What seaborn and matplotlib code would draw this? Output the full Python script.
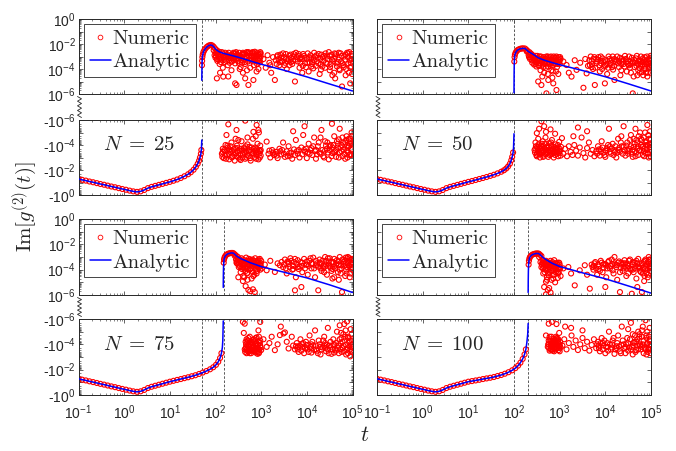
import matplotlib
matplotlib.use("Agg")
import matplotlib.pyplot as plt
import numpy as np
import seaborn as sns
from matplotlib.lines import Line2D
from matplotlib.ticker import FixedLocator, FixedFormatter, LogLocator, NullLocator, NullFormatter

# ---- data (log10 t, log10 |Im g2|) ----
# early-time negative branch, the same for every N
early_logt = [-1.00, -0.92, -0.84, -0.76, -0.68, -0.60, -0.52, -0.44, -0.36, -0.28, -0.20, -0.12, -0.04,
              0.04, 0.12, 0.20, 0.28, 0.36, 0.44, 0.52, 0.60, 0.68, 0.76, 0.84, 0.92, 1.00]
early_logy = [-1.28, -1.21, -1.15, -1.08, -1.02, -0.95, -0.88, -0.82, -0.75, -0.68, -0.62, -0.55, -0.48,
              -0.42, -0.35, -0.29, -0.25, -0.29, -0.40, -0.55, -0.65, -0.73, -0.81, -0.89, -0.97, -1.05]

# N = 25
n25_neg_logt = [1.08, 1.16, 1.24, 1.32, 1.40, 1.46, 1.52, 1.57, 1.61, 1.64, 1.66, 1.68, 1.69, 1.70]
n25_neg_logy = [-1.14, -1.24, -1.36, -1.50, -1.66, -1.82, -2.02, -2.25, -2.50, -2.75, -3.00, -3.30, -3.60, -4.40]
n25_pos_logt = [1.700, 1.702, 1.704, 1.707, 1.712, 1.720, 1.735, 1.755, 1.780, 1.810, 1.840, 1.870, 1.900, 1.930,
                1.960, 1.990, 2.030, 2.080, 2.150, 2.250, 2.400, 2.600, 2.800, 3.000, 3.500, 4.000, 4.500, 5.000]
n25_pos_logy = [-4.90, -4.20, -3.70, -3.35, -3.05, -2.85, -2.65, -2.50, -2.36, -2.24, -2.15, -2.10, -2.08, -2.12,
                -2.22, -2.36, -2.50, -2.62, -2.72, -2.82, -2.96, -3.17, -3.40, -3.62, -4.10, -4.63, -5.20, -5.76]
n25_peak_end = 2.08
n25_marks = [50]
n25_cloud_pos = [
    (1.96, -2.5), (1.98, -2.9), (2.0, -3.1), (2.02, -2.75), (2.04, -3.35), (2.07, -3.0), (2.09, -3.6), (2.11, -2.85),
    (2.13, -3.25), (2.16, -3.9), (2.18, -2.95), (2.2, -3.45), (2.23, -3.1), (2.25, -2.8), (2.27, -3.7), (2.3, -3.3),
    (2.33, -2.9), (2.35, -4.1), (2.38, -3.15), (2.41, -2.75), (2.43, -3.55), (2.46, -3.0), (2.49, -3.35), (2.52, -2.7),
    (2.55, -3.85), (2.58, -3.1), (2.61, -2.85), (2.64, -3.45), (2.67, -3.0), (2.7, -2.7), (2.73, -3.25), (2.76, -3.9),
    (2.79, -2.95), (2.82, -3.4), (2.85, -2.75), (2.88, -3.15), (2.91, -3.6), (2.94, -2.85), (2.96, -3.3), (2.98, -2.65),
    (2.99, -3.0), (2.6, -2.7), (2.66, -2.8), (2.72, -2.65), (2.8, -2.72), (2.86, -2.62), (2.92, -2.7), (2.97, -2.8),
    (2.5, -2.9), (2.44, -2.75), (2.36, -2.85), (2.03, -4.75), (2.17, -4.61), (2.28, -4.6), (2.43, -5.15), (2.46, -5.28),
    (2.65, -4.75), (2.72, -5.28), (2.83, -4.88), (2.6, -4.3), (2.9, -4.2), (2.1, -4.3),
    (3.05, -3.2), (3.1, -3.9), (3.14, -2.9), (3.18, -3.5), (3.22, -4.3), (3.26, -3.05), (3.3, -4.88), (3.2, -3.7),
    (3.32, -3.3), (3.36, -2.9), (3.4, -3.7), (3.44, -3.1), (3.48, -2.75), (3.52, -3.5), (3.56, -4.0), (3.6, -3.2),
    (3.64, -2.85), (3.68, -3.6), (3.72, -3.0), (3.74, -5.0), (3.76, -2.7), (3.8, -3.4), (3.84, -3.9), (3.88, -3.05),
    (3.92, -2.8), (3.96, -3.55), (4.0, -3.2), (4.04, -4.2), (4.08, -2.9), (4.12, -3.45), (4.16, -2.7), (4.2, -3.75),
    (4.24, -3.1), (4.28, -4.4), (4.32, -2.85), (4.36, -3.35), (4.4, -3.9), (4.44, -3.0), (4.48, -2.65), (4.52, -3.6),
    (4.56, -4.5), (4.6, -3.2), (4.62, -4.75), (4.64, -2.8), (4.68, -3.45), (4.72, -4.1), (4.76, -2.95), (4.77, -5.4),
    (4.8, -3.7), (4.84, -3.25), (4.88, -2.7), (4.92, -4.3), (4.95, -5.15), (4.96, -3.5), (4.99, -3.0), (4.98, -2.8),
    (4.9, -3.05), (4.7, -2.7), (4.5, -2.95), (4.3, -3.6), (4.1, -3.8), (3.9, -4.3),
]
n25_core_pos = [
    (2.01, -2.95), (2.05, -2.7), (2.08, -3.2), (2.12, -3.45), (2.15, -2.75), (2.19, -3.25), (2.22, -2.9), (2.26, -3.05),
    (2.29, -2.7), (2.31, -3.5), (2.34, -3.15), (2.37, -2.95), (2.4, -3.3), (2.42, -3.05), (2.45, -2.65), (2.48, -3.15),
    (2.51, -3.5), (2.54, -2.95), (2.56, -3.3), (2.59, -2.8), (2.62, -3.15), (2.65, -3.6), (2.68, -2.65), (2.71, -3.4),
    (2.74, -2.95), (2.77, -3.15), (2.8, -3.0), (2.83, -2.9), (2.86, -3.2), (2.89, -2.85), (2.92, -3.0), (2.95, -3.5),
    (2.97, -3.15), (2.99, -2.75), (2.53, -4.0), (2.69, -4.1), (2.84, -3.7), (2.94, -4.0),
    (3.34, -3.6), (3.38, -3.2), (3.42, -2.85), (3.46, -3.4), (3.5, -3.05), (3.54, -2.8), (3.58, -3.4), (3.62, -3.7),
    (3.66, -3.1), (3.7, -3.35), (3.78, -3.05), (3.82, -2.8), (3.86, -3.5), (3.9, -3.2), (3.94, -2.95), (3.98, -3.85),
    (4.02, -2.75), (4.06, -3.5), (4.1, -3.15), (4.14, -3.95), (4.18, -3.0), (4.22, -3.4), (4.26, -2.8), (4.3, -3.2),
    (4.34, -3.8), (4.38, -2.95), (4.42, -3.5), (4.46, -3.2), (4.5, -4.1), (4.54, -2.85), (4.58, -3.4), (4.62, -3.0),
    (4.66, -3.8), (4.7, -3.25), (4.74, -2.75), (4.78, -3.55), (4.82, -3.0), (4.86, -4.0), (4.9, -2.75), (4.94, -3.3),
    (4.97, -3.8), (4.99, -4.4), (4.93, -2.65), (4.85, -4.5), (4.6, -4.3),
]
n25_fill_pos = [
    (2.0, -2.65), (2.03, -3.2), (2.06, -2.85), (2.1, -3.1), (2.14, -2.65), (2.17, -3.05), (2.21, -2.7), (2.24, -3.35),
    (2.28, -2.95), (2.32, -3.1), (2.36, -3.4), (2.39, -2.7), (2.44, -3.2), (2.47, -2.85), (2.5, -3.15), (2.55, -3.05),
    (2.58, -3.5), (2.63, -2.75), (2.69, -3.1), (2.75, -2.75), (2.78, -3.3), (2.81, -2.65), (2.87, -3.35), (2.9, -3.0),
    (2.93, -3.25), (2.98, -3.45),
    (3.35, -3.0), (3.45, -3.35), (3.55, -3.2), (3.65, -3.45), (3.75, -3.25), (3.85, -3.2), (3.95, -3.1), (4.05, -3.05),
    (4.15, -3.3), (4.25, -3.55), (4.35, -3.05), (4.45, -3.6), (4.55, -3.25), (4.65, -3.55), (4.75, -3.4), (4.85, -2.85),
    (4.95, -3.9), (4.98, -3.2), (4.91, -3.55), (4.81, -3.85), (4.71, -4.0), (4.61, -2.75), (4.51, -3.85), (4.41, -2.75),
    (4.31, -4.05), (4.21, -2.9), (4.11, -3.6), (4.01, -3.5), (3.91, -3.75), (3.81, -2.95), (3.71, -2.8), (3.61, -2.95),
    (3.51, -3.7), (3.41, -3.45),
]
n25_cloud_neg = [
    (2.14, -3.3), (2.16, -3.7), (2.18, -2.95), (2.2, -3.5), (2.22, -4.0), (2.25, -3.2), (2.27, -3.8), (2.3, -2.85),
    (2.32, -3.45), (2.35, -4.2), (2.37, -3.1), (2.4, -3.65), (2.42, -2.75), (2.45, -3.35), (2.47, -3.95), (2.5, -3.0),
    (2.52, -3.55), (2.55, -2.8), (2.57, -4.3), (2.6, -3.25), (2.62, -3.75), (2.65, -2.9), (2.67, -3.45), (2.7, -4.05),
    (2.72, -3.1), (2.75, -3.6), (2.77, -2.75), (2.8, -3.35), (2.82, -4.5), (2.85, -3.0), (2.87, -3.8), (2.9, -3.2),
    (2.92, -4.1), (2.94, -2.85), (2.96, -3.55), (2.98, -3.95), (2.99, -3.15), (2.5, -4.4), (2.7, -4.6), (2.88, -4.7),
    (2.95, -5.0), (2.24, -4.8), (2.28, -5.65), (2.46, -5.2), (2.65, -5.95), (2.83, -5.05), (2.9, -5.6), (2.94, -5.2),
    (2.44, -4.5), (3.12, -4.27),
    (3.16, -3.3), (3.2, -3.0), (3.24, -3.6), (3.28, -3.2), (3.32, -3.45), (3.36, -2.95), (3.4, -3.7), (3.44, -3.25),
    (3.48, -4.2), (3.52, -3.05), (3.56, -3.5), (3.6, -3.9), (3.64, -3.15), (3.68, -2.9), (3.72, -3.65), (3.76, -4.4),
    (3.8, -3.3), (3.84, -3.0), (3.88, -3.8), (3.92, -4.8), (3.96, -3.45), (4.0, -2.95), (4.04, -4.1), (4.08, -3.6),
    (4.12, -3.2), (4.16, -4.6), (4.2, -2.9), (4.24, -3.9), (4.28, -3.4), (4.32, -5.2), (4.36, -3.1), (4.4, -4.3),
    (4.44, -3.7), (4.48, -2.85), (4.52, -4.0), (4.56, -3.35), (4.6, -4.7), (4.64, -3.05), (4.68, -3.8), (4.72, -5.3),
    (4.76, -3.5), (4.8, -4.2), (4.84, -2.9), (4.88, -3.95), (4.92, -4.5), (4.95, -3.25), (4.98, -5.0), (4.99, -3.7),
    (4.9, -3.4), (4.7, -4.45), (4.5, -3.6), (4.3, -4.6), (3.95, -5.5), (3.7, -5.1), (4.55, -5.7),
]
n25_core_neg = [
    (2.15, -3.05), (2.19, -3.6), (2.23, -2.9), (2.26, -3.55), (2.29, -3.3), (2.33, -3.9), (2.36, -3.0), (2.39, -3.4),
    (2.43, -3.75), (2.46, -3.1), (2.49, -3.5), (2.53, -2.9), (2.56, -3.7), (2.59, -3.0), (2.63, -3.4), (2.66, -3.9),
    (2.69, -3.2), (2.73, -3.5), (2.76, -2.95), (2.79, -3.8), (2.83, -3.3), (2.86, -3.55), (2.89, -2.9), (2.93, -3.45),
    (2.97, -3.0), (2.99, -3.6),
    (3.18, -3.55), (3.26, -3.4), (3.34, -3.15), (3.42, -3.5), (3.5, -3.3), (3.58, -3.1), (3.66, -3.4), (3.74, -3.2),
    (3.82, -3.6), (3.9, -3.25), (3.98, -3.7), (4.06, -3.3), (4.14, -3.9), (4.18, -3.5), (4.22, -3.25), (4.26, -4.2),
    (4.34, -3.6), (4.38, -3.0), (4.42, -3.95), (4.46, -3.4), (4.54, -3.1), (4.58, -4.0), (4.62, -3.5), (4.66, -4.3),
    (4.7, -3.0), (4.74, -3.8), (4.78, -4.6), (4.82, -3.3), (4.86, -4.4), (4.9, -3.8), (4.94, -4.1), (4.97, -3.2),
    (4.99, -4.7), (4.96, -4.3), (4.89, -3.0),
]
n25_fill_neg = [
    (2.16, -3.45), (2.21, -3.15), (2.26, -3.95), (2.31, -3.65), (2.36, -3.55), (2.41, -3.2), (2.48, -3.75),
    (2.54, -3.25), (2.58, -3.55), (2.64, -3.65), (2.68, -3.0), (2.74, -3.85), (2.78, -3.45), (2.84, -3.7),
    (2.88, -3.4), (2.91, -3.65), (2.95, -3.3), (2.98, -3.5),
    (3.3, -3.3), (3.46, -3.6), (3.62, -3.35), (3.78, -3.5), (3.94, -3.6), (4.02, -3.4), (4.1, -3.75), (4.2, -3.6),
    (4.3, -3.3), (4.4, -3.55), (4.5, -3.9), (4.56, -3.8), (4.64, -3.6), (4.68, -4.1), (4.72, -3.4), (4.76, -4.0),
    (4.8, -3.6), (4.84, -4.2), (4.88, -3.55), (4.92, -3.9), (4.95, -4.5), (4.97, -3.6), (4.99, -4.1), (4.93, -3.2),
    (4.87, -4.7), (4.78, -3.1), (4.6, -3.4), (4.45, -4.2),
]

# N = 50
n50_neg_logt = [1.08, 1.16, 1.24, 1.32, 1.40, 1.48, 1.56, 1.64, 1.72, 1.78, 1.83, 1.87, 1.91, 1.94, 1.96, 1.98, 1.99, 2.00]
n50_neg_logy = [-1.12, -1.20, -1.28, -1.36, -1.44, -1.53, -1.62, -1.73, -1.86, -1.98, -2.12, -2.28, -2.50, -2.78,
                -3.05, -3.40, -3.80, -4.90]
n50_pos_logt = [2.000, 2.002, 2.004, 2.007, 2.012, 2.020, 2.035, 2.055, 2.080, 2.110, 2.140, 2.170, 2.200, 2.240,
                2.270, 2.300, 2.340, 2.390, 2.450, 2.530, 2.650, 2.800, 3.000, 3.500, 4.000, 4.500, 5.000]
n50_pos_logy = [-5.90, -4.60, -3.90, -3.40, -3.05, -2.85, -2.70, -2.58, -2.48, -2.42, -2.38, -2.36, -2.35, -2.36,
                -2.45, -2.56, -2.66, -2.76, -2.90, -3.10, -3.28, -3.45, -3.66, -4.12, -4.62, -5.18, -5.76]
n50_peak_end = 2.34
n50_marks = [100]
n50_cloud_pos = [
    (2.28, -2.6), (2.32, -2.9), (2.35, -3.2), (2.38, -2.8), (2.4, -3.5), (2.42, -3.05), (2.45, -3.35), (2.47, -2.95),
    (2.49, -3.8), (2.52, -3.15), (2.54, -3.5), (2.56, -3.0), (2.58, -4.1), (2.6, -3.3), (2.63, -3.65), (2.65, -3.05),
    (2.67, -3.4), (2.7, -3.9), (2.72, -3.15), (2.74, -4.4), (2.76, -3.5), (2.78, -3.05), (2.8, -3.75), (2.83, -3.25),
    (2.85, -4.2), (2.87, -3.0), (2.9, -3.55), (2.92, -3.1), (2.94, -3.85), (2.96, -3.35), (2.98, -3.05), (3.0, -3.6),
    (3.02, -3.2), (2.62, -4.6), (2.84, -4.7), (2.97, -4.4), (2.53, -5.0), (2.6, -5.28), (2.71, -5.95), (2.75, -4.88),
    (2.86, -5.15), (2.93, -5.68), (2.5, -3.3), (2.69, -3.2), (2.88, -3.35),
    (3.08, -3.4), (3.15, -3.68), (3.2, -4.3), (3.26, -4.61), (3.33, -3.3), (3.37, -4.07), (3.45, -3.5), (3.52, -5.5),
    (3.56, -3.2), (3.59, -4.35), (3.62, -3.75),
    (3.65, -3.3), (3.68, -3.0), (3.71, -3.6), (3.74, -3.2), (3.77, -5.28), (3.78, -3.9), (3.82, -3.4), (3.85, -3.05),
    (3.88, -4.2), (3.91, -3.55), (3.94, -3.15), (3.97, -3.8), (3.99, -5.15), (4.0, -3.3), (4.04, -4.4), (4.07, -3.0),
    (4.1, -3.65), (4.14, -3.25), (4.17, -4.05), (4.2, -4.88), (4.22, -3.45), (4.26, -3.0), (4.3, -3.85), (4.33, -4.5),
    (4.36, -3.2), (4.4, -3.6), (4.43, -2.95), (4.47, -4.2), (4.5, -3.4), (4.54, -3.9), (4.58, -3.1), (4.6, -5.95),
    (4.62, -4.6), (4.65, -3.5), (4.69, -2.95), (4.72, -4.1), (4.76, -3.3), (4.8, -3.75), (4.83, -4.5), (4.86, -3.05),
    (4.9, -3.6), (4.93, -4.3), (4.96, -3.2), (4.98, -3.9), (4.99, -2.95), (4.94, -3.45), (4.88, -4.0), (4.78, -3.0),
]
n50_core_pos = [
    (2.33, -3.05), (2.36, -2.75), (2.39, -3.3), (2.41, -2.9), (2.44, -3.65), (2.46, -3.1), (2.48, -3.45), (2.51, -2.95),
    (2.53, -3.7), (2.55, -3.25), (2.57, -3.55), (2.59, -3.0), (2.62, -3.4), (2.64, -3.85), (2.66, -3.2), (2.68, -3.6),
    (2.71, -3.0), (2.73, -3.45), (2.75, -3.8), (2.77, -3.25), (2.79, -3.55), (2.81, -3.0), (2.84, -3.45), (2.86, -3.7),
    (2.89, -3.15), (2.91, -3.4), (2.93, -3.0), (2.95, -3.6), (2.97, -3.25), (2.99, -3.45), (3.01, -3.05), (2.82, -4.1),
    (2.66, -4.3), (2.92, -4.2),
    (3.66, -3.7), (3.7, -3.35), (3.73, -4.0), (3.76, -3.05), (3.8, -3.55), (3.84, -3.25), (3.87, -3.7), (3.9, -3.0),
    (3.93, -4.0), (3.96, -3.4), (4.02, -3.6), (4.06, -3.9), (4.09, -3.2), (4.12, -3.5), (4.16, -3.0), (4.19, -3.75),
    (4.24, -3.3), (4.28, -3.55), (4.32, -3.1), (4.35, -4.1), (4.38, -3.4), (4.42, -3.8), (4.45, -3.2), (4.49, -3.6),
    (4.52, -3.0), (4.56, -4.3), (4.6, -3.4), (4.64, -3.85), (4.67, -3.15), (4.71, -3.6), (4.74, -3.9), (4.78, -3.4),
    (4.82, -3.15), (4.85, -4.0), (4.88, -3.5), (4.91, -3.0), (4.95, -3.8), (4.97, -3.35), (4.99, -4.3), (4.92, -4.6),
    (4.8, -4.25), (4.7, -4.5),
]
n50_fill_pos = [
    (2.34, -2.85), (2.37, -3.05), (2.43, -3.25), (2.47, -3.6), (2.52, -3.35), (2.56, -3.75), (2.61, -3.15),
    (2.65, -3.5), (2.69, -3.4), (2.74, -3.0), (2.78, -3.6), (2.82, -3.35), (2.88, -3.55), (2.92, -3.3), (2.96, -3.5),
    (3.0, -3.3), (2.57, -3.25), (2.85, -3.1),
    (3.7, -3.85), (3.8, -3.2), (3.9, -3.35), (4.0, -3.75), (4.1, -3.35), (4.2, -3.2), (4.3, -3.35), (4.4, -3.25),
    (4.46, -3.45), (4.52, -3.7), (4.58, -3.5), (4.63, -3.25), (4.68, -3.75), (4.73, -3.35), (4.77, -3.6), (4.81, -3.45),
    (4.84, -3.3), (4.87, -3.8), (4.9, -3.3), (4.93, -3.55), (4.96, -3.6), (4.98, -3.1), (4.99, -3.7), (4.89, -4.3),
    (4.75, -4.3), (4.55, -3.6), (4.35, -3.6), (4.15, -3.85),
]
n50_cloud_neg = [
    (2.45, -3.6), (2.47, -4.2), (2.49, -3.2), (2.51, -3.85), (2.53, -4.5), (2.55, -3.4), (2.57, -3.0), (2.59, -3.95),
    (2.61, -3.55), (2.63, -4.3), (2.65, -3.15), (2.67, -3.75), (2.69, -4.6), (2.71, -3.35), (2.73, -3.9), (2.75, -3.05),
    (2.77, -4.15), (2.79, -3.6), (2.81, -3.25), (2.83, -4.4), (2.85, -3.7), (2.87, -3.0), (2.89, -3.5), (2.91, -4.05),
    (2.93, -3.3), (2.95, -3.8), (2.97, -3.1), (2.99, -4.25), (3.01, -3.55), (3.03, -3.85), (2.55, -5.3), (2.6, -5.9),
    (2.66, -5.5), (2.7, -5.05), (2.8, -5.25), (2.9, -4.9), (2.5, -4.95), (3.05, -4.55),
    (3.08, -3.3), (3.12, -3.7), (3.16, -3.1), (3.2, -3.9), (3.24, -3.45), (3.28, -3.2), (3.32, -4.0), (3.36, -3.55),
    (3.4, -3.15), (3.44, -3.8), (3.48, -4.6), (3.52, -3.35), (3.56, -3.0), (3.6, -3.75), (3.64, -4.2), (3.68, -3.3),
    (3.72, -3.6), (3.76, -3.1), (3.4, -5.4), (3.6, -5.1), (3.3, -4.7),
    (3.8, -3.5), (3.84, -3.9), (3.88, -3.15), (3.92, -4.3), (3.96, -3.4), (4.0, -3.05), (4.04, -3.75), (4.08, -5.3),
    (4.12, -3.3), (4.16, -4.1), (4.2, -3.6), (4.24, -3.0), (4.28, -4.5), (4.32, -3.45), (4.36, -3.9), (4.4, -5.5),
    (4.44, -3.15), (4.48, -4.2), (4.52, -3.7), (4.56, -4.8), (4.6, -3.05), (4.64, -3.5), (4.68, -4.4), (4.72, -3.2),
    (4.76, -5.0), (4.8, -3.85), (4.84, -4.6), (4.88, -3.35), (4.92, -5.6), (4.95, -3.0), (4.97, -4.1), (4.99, -3.6),
    (4.9, -4.3), (4.78, -4.0), (4.66, -5.3), (4.5, -3.3), (4.35, -4.7), (4.98, -5.1), (4.85, -3.1), (4.7, -3.7),
]
n50_core_neg = [
    (2.46, -3.4), (2.48, -3.9), (2.5, -3.1), (2.52, -3.55), (2.54, -4.05), (2.56, -3.25), (2.58, -3.7), (2.6, -3.35),
    (2.62, -3.85), (2.64, -3.05), (2.66, -3.5), (2.68, -4.1), (2.7, -3.25), (2.72, -3.6), (2.74, -3.4), (2.76, -3.85),
    (2.78, -3.2), (2.8, -3.5), (2.82, -3.95), (2.84, -3.3), (2.86, -3.55), (2.88, -3.85), (2.9, -3.2), (2.92, -3.6),
    (2.94, -3.45), (2.96, -4.0), (2.98, -3.35), (3.0, -3.7), (3.02, -3.15),
    (3.82, -3.3), (3.86, -3.65), (3.9, -3.45), (3.94, -3.8), (3.98, -3.2), (4.02, -3.55), (4.06, -4.0), (4.1, -3.45),
    (4.14, -3.7), (4.18, -3.2), (4.22, -3.9), (4.26, -3.4), (4.3, -3.75), (4.34, -4.2), (4.38, -3.3), (4.42, -3.6),
    (4.46, -3.95), (4.5, -3.5), (4.54, -4.4), (4.58, -3.3), (4.62, -3.85), (4.66, -3.1), (4.7, -4.2), (4.74, -3.55),
    (4.78, -4.5), (4.82, -3.2), (4.86, -3.7), (4.9, -4.0), (4.93, -3.35), (4.96, -4.5), (4.98, -3.85), (4.99, -3.1),
    (4.94, -4.8), (4.87, -5.0),
]
n50_fill_neg = [
    (2.47, -3.7), (2.51, -3.3), (2.55, -3.85), (2.59, -3.5), (2.63, -3.6), (2.67, -3.3), (2.71, -3.8), (2.75, -3.55),
    (2.79, -3.4), (2.83, -3.65), (2.87, -3.4), (2.91, -3.75), (2.95, -3.6), (2.99, -3.5), (2.61, -4.1), (2.81, -4.2),
    (3.9, -3.65), (4.0, -3.55), (4.1, -3.9), (4.2, -3.45), (4.3, -3.6), (4.4, -3.85), (4.48, -3.6), (4.56, -3.9),
    (4.6, -3.6), (4.64, -4.1), (4.68, -3.4), (4.72, -3.9), (4.76, -3.6), (4.8, -4.4), (4.84, -3.5), (4.88, -4.2),
    (4.91, -3.6), (4.94, -3.3), (4.97, -3.8), (4.99, -4.4), (4.93, -4.0), (4.83, -3.9), (4.73, -4.7), (4.62, -4.5),
]

# N = 75
n75_neg_logt = [1.08, 1.16, 1.24, 1.32, 1.40, 1.48, 1.56, 1.64, 1.72, 1.80, 1.88, 1.95, 2.01, 2.06, 2.10, 2.13,
                2.15, 2.16, 2.17]
n75_neg_logy = [-1.12, -1.19, -1.26, -1.33, -1.40, -1.48, -1.56, -1.66, -1.77, -1.89, -2.03, -2.19, -2.38, -2.62,
                -2.92, -3.30, -3.75, -4.30, -5.85]
n75_pos_logt = [2.170, 2.172, 2.175, 2.180, 2.187, 2.197, 2.210, 2.230, 2.255, 2.285, 2.315, 2.345, 2.375, 2.400,
                2.430, 2.460, 2.500, 2.560, 2.650, 2.760, 2.880, 3.000, 3.500, 4.000, 4.500, 5.000]
n75_pos_logy = [-5.40, -4.50, -3.90, -3.45, -3.20, -3.05, -2.95, -2.85, -2.78, -2.73, -2.70, -2.68, -2.68, -2.72,
                -2.82, -2.92, -3.02, -3.14, -3.28, -3.45, -3.60, -3.76, -4.20, -4.65, -5.20, -5.80]
n75_peak_end = 2.46
n75_marks = [50, 150]
n75_cloud_pos = [
    (2.42, -2.9), (2.45, -3.2), (2.47, -3.5), (2.49, -3.0), (2.51, -3.8), (2.53, -3.3), (2.55, -4.2), (2.57, -3.1),
    (2.59, -3.6), (2.61, -4.5), (2.63, -3.25), (2.65, -3.9), (2.67, -3.05), (2.69, -4.3), (2.71, -3.5), (2.73, -3.15),
    (2.75, -4.0), (2.77, -3.4), (2.79, -4.7), (2.81, -3.2), (2.83, -3.75), (2.85, -4.4), (2.87, -3.1), (2.89, -3.6),
    (2.91, -4.1), (2.93, -3.3), (2.95, -3.85), (2.97, -3.15), (2.99, -3.5), (3.01, -3.9), (2.5, -4.6), (2.6, -4.9),
    (2.7, -4.8), (2.72, -5.6), (2.76, -5.7), (2.82, -5.55), (2.86, -5.77), (2.66, -5.3), (2.58, -3.35), (2.8, -3.45),
    (3.08, -3.6), (3.12, -4.05), (3.2, -3.3), (3.3, -4.18), (3.36, -3.5), (3.41, -3.65), (3.45, -3.39),
    (3.48, -3.8), (3.52, -3.2), (3.56, -4.3), (3.6, -3.55), (3.64, -3.1), (3.68, -4.0), (3.72, -3.4), (3.74, -5.63),
    (3.76, -4.6), (3.8, -3.25), (3.84, -3.75), (3.88, -5.37), (3.9, -4.2), (3.94, -3.15), (3.98, -3.6), (4.02, -4.4),
    (4.06, -3.3), (4.1, -3.9), (4.14, -3.05), (4.18, -4.6), (4.22, -3.5), (4.25, -5.63), (4.28, -3.2), (4.32, -4.1),
    (4.36, -3.7), (4.4, -3.0), (4.44, -4.4), (4.48, -3.35), (4.52, -3.85), (4.56, -4.7), (4.6, -3.15), (4.64, -3.6),
    (4.68, -4.2), (4.72, -3.0), (4.76, -3.9), (4.77, -5.77), (4.8, -3.4), (4.84, -4.5), (4.88, -3.1), (4.92, -3.7),
    (4.95, -4.3), (4.98, -3.25), (4.99, -4.0), (4.9, -3.0), (4.7, -4.8), (4.5, -3.1), (4.3, -3.5), (4.96, -3.55),
]
n75_core_pos = [
    (2.46, -3.45), (2.48, -3.25), (2.5, -3.6), (2.52, -3.15), (2.54, -3.75), (2.56, -3.4), (2.58, -3.95), (2.6, -3.2),
    (2.62, -3.7), (2.64, -3.5), (2.66, -4.1), (2.68, -3.35), (2.7, -3.8), (2.72, -3.3), (2.74, -3.6), (2.76, -3.2),
    (2.78, -3.9), (2.8, -3.6), (2.82, -4.2), (2.84, -3.3), (2.86, -3.6), (2.88, -4.0), (2.9, -3.35), (2.92, -3.75),
    (2.94, -3.2), (2.96, -3.6), (2.98, -4.0), (3.0, -3.3), (2.63, -4.6), (2.83, -4.5),
    (3.5, -3.6), (3.54, -3.9), (3.58, -3.35), (3.62, -3.8), (3.66, -3.3), (3.7, -3.7), (3.74, -3.15), (3.78, -3.55),
    (3.82, -3.95), (3.86, -3.4), (3.9, -3.7), (3.96, -3.9), (4.0, -3.35), (4.04, -3.7), (4.08, -3.1), (4.12, -3.55),
    (4.16, -3.9), (4.2, -3.3), (4.24, -3.75), (4.3, -3.9), (4.34, -3.3), (4.38, -4.2), (4.42, -3.6), (4.46, -3.1),
    (4.5, -3.75), (4.54, -4.1), (4.58, -3.4), (4.62, -3.9), (4.66, -3.25), (4.7, -3.6), (4.74, -4.3), (4.78, -3.2),
    (4.82, -3.7), (4.86, -4.0), (4.9, -3.5), (4.93, -3.1), (4.97, -3.8), (4.99, -3.45), (4.94, -4.6), (4.85, -3.05),
    (4.6, -4.6),
]
n75_fill_pos = [
    (2.47, -3.35), (2.51, -3.45), (2.55, -3.55), (2.59, -3.8), (2.63, -3.6), (2.67, -3.45), (2.71, -3.95),
    (2.75, -3.45), (2.79, -3.3), (2.83, -3.5), (2.87, -3.85), (2.91, -3.5), (2.95, -3.45), (2.99, -3.7), (2.7, -4.25),
    (2.9, -4.3),
    (3.6, -3.4), (3.7, -3.95), (3.8, -3.8), (3.9, -3.45), (4.0, -3.6), (4.1, -3.5), (4.2, -3.65), (4.28, -3.45),
    (4.36, -3.9), (4.42, -3.3), (4.48, -3.6), (4.54, -3.4), (4.6, -3.75), (4.65, -3.5), (4.7, -3.35), (4.75, -3.65),
    (4.8, -3.55), (4.84, -3.3), (4.88, -3.8), (4.91, -3.3), (4.94, -3.7), (4.97, -3.45), (4.99, -3.15), (4.87, -4.3),
    (4.72, -4.0), (4.56, -3.95), (4.4, -3.75),
]
n75_cloud_neg = [
    (2.64, -3.6), (2.66, -4.2), (2.68, -3.3), (2.7, -3.9), (2.72, -4.5), (2.74, -3.45), (2.76, -4.05), (2.78, -3.3),
    (2.8, -3.75), (2.82, -4.35), (2.84, -3.5), (2.86, -4.0), (2.88, -3.35), (2.9, -4.55), (2.92, -3.7), (2.94, -4.2),
    (2.96, -3.4), (2.98, -3.9), (3.0, -3.55), (2.7, -3.5), (2.8, -4.1), (2.9, -3.85), (2.75, -4.6), (2.95, -4.6),
    (2.67, -3.8), (2.85, -3.6), (2.6, -5.77), (2.64, -5.63), (2.98, -5.77), (2.94, -5.1), (2.62, -4.9),
    (3.12, -3.8), (3.23, -4.6), (3.3, -3.54), (3.41, -4.73), (3.43, -5.4), (3.49, -4.86), (3.52, -4.94), (3.56, -4.2),
    (3.6, -3.67), (3.67, -4.6), (3.18, -4.1), (3.36, -4.0), (3.7, -3.9), (3.05, -4.4),
    (3.74, -3.6), (3.78, -4.1), (3.82, -3.4), (3.86, -4.4), (3.9, -3.8), (3.94, -3.3), (3.98, -4.2), (4.02, -3.6),
    (4.06, -4.7), (4.1, -3.35), (4.14, -3.9), (4.18, -5.1), (4.22, -3.5), (4.26, -4.3), (4.3, -3.2), (4.34, -3.75),
    (4.38, -4.6), (4.42, -3.45), (4.46, -5.3), (4.5, -3.9), (4.54, -3.25), (4.58, -4.4), (4.62, -3.6), (4.66, -5.0),
    (4.7, -3.3), (4.74, -4.1), (4.78, -3.7), (4.82, -5.6), (4.86, -3.2), (4.9, -4.5), (4.93, -3.85), (4.96, -5.2),
    (4.98, -3.4), (4.99, -4.3), (4.88, -5.8), (4.8, -4.8), (4.6, -4.0), (4.4, -4.1), (4.95, -3.05), (4.72, -5.5),
]
n75_core_neg = [
    (2.65, -3.4), (2.67, -4.0), (2.69, -3.6), (2.71, -4.3), (2.73, -3.8), (2.75, -3.3), (2.77, -3.6), (2.79, -4.2),
    (2.81, -3.5), (2.83, -3.9), (2.85, -4.25), (2.87, -3.65), (2.89, -4.0), (2.91, -3.4), (2.93, -3.95), (2.95, -3.3),
    (2.97, -4.1), (2.99, -3.75), (2.68, -4.4), (2.78, -3.95), (2.88, -4.5), (2.96, -3.6),
    (3.76, -3.85), (3.8, -3.6), (3.84, -3.9), (3.88, -3.5), (3.92, -4.1), (3.96, -3.7), (4.0, -3.95), (4.04, -3.4),
    (4.08, -3.8), (4.12, -4.2), (4.16, -3.55), (4.2, -3.9), (4.24, -3.3), (4.28, -4.0), (4.32, -3.6), (4.36, -4.3),
    (4.4, -3.7), (4.44, -3.95), (4.48, -3.3), (4.52, -4.2), (4.56, -3.6), (4.6, -3.35), (4.64, -4.1), (4.68, -3.7),
    (4.72, -4.4), (4.76, -3.4), (4.8, -3.9), (4.84, -4.6), (4.88, -3.6), (4.92, -4.2), (4.95, -3.6), (4.98, -4.8),
    (4.99, -3.75), (4.9, -3.3), (4.85, -5.1), (4.75, -4.9),
]
n75_fill_neg = [
    (2.66, -3.7), (2.7, -4.15), (2.74, -3.9), (2.78, -3.5), (2.82, -3.8), (2.86, -3.45), (2.9, -4.1), (2.94, -3.6),
    (2.98, -4.3), (2.72, -3.4), (2.84, -4.4), (2.92, -3.25),
    (3.8, -3.8), (3.9, -4.0), (4.0, -3.7), (4.1, -4.0), (4.2, -3.6), (4.3, -3.8), (4.38, -3.9), (4.46, -3.6),
    (4.52, -3.8), (4.58, -3.95), (4.64, -3.5), (4.7, -3.9), (4.74, -3.6), (4.78, -4.2), (4.82, -3.45), (4.86, -3.95),
    (4.9, -3.7), (4.94, -4.3), (4.97, -3.5), (4.99, -4.0), (4.91, -4.6), (4.76, -4.5),
]

# N = 100
n100_neg_logt = [1.08, 1.16, 1.24, 1.32, 1.40, 1.48, 1.56, 1.64, 1.72, 1.80, 1.88, 1.96, 2.03, 2.09, 2.14, 2.19,
                 2.23, 2.26, 2.28, 2.30, 2.31]
n100_neg_logy = [-1.10, -1.15, -1.20, -1.26, -1.31, -1.36, -1.42, -1.50, -1.58, -1.68, -1.80, -1.95, -2.12, -2.32,
                 -2.55, -2.85, -3.20, -3.60, -4.10, -4.80, -5.65]
n100_pos_logt = [2.310, 2.312, 2.315, 2.320, 2.327, 2.337, 2.350, 2.370, 2.400, 2.430, 2.460, 2.490, 2.520, 2.545,
                 2.570, 2.600, 2.640, 2.690, 2.750, 2.850, 3.000, 3.500, 4.000, 4.500, 5.000]
n100_pos_logy = [-5.80, -4.80, -4.10, -3.60, -3.30, -3.12, -3.00, -2.90, -2.82, -2.77, -2.74, -2.72, -2.72, -2.74,
                 -2.82, -2.92, -3.05, -3.18, -3.32, -3.52, -3.75, -4.25, -4.72, -5.28, -5.85]
n100_peak_end = 2.60
n100_marks = [100, 200]
n100_cloud_pos = [
    (2.55, -3.0), (2.58, -3.4), (2.6, -3.8), (2.62, -3.2), (2.64, -4.3), (2.66, -3.55), (2.68, -4.0), (2.7, -3.3),
    (2.72, -4.6), (2.74, -3.7), (2.76, -3.45), (2.78, -4.2), (2.8, -3.6), (2.82, -4.8), (2.84, -3.4), (2.86, -3.9),
    (2.88, -4.4), (2.9, -3.5), (2.92, -3.75), (2.94, -4.1), (2.96, -3.45), (2.98, -3.95), (3.0, -3.6), (3.02, -4.5),
    (2.7, -4.95), (2.9, -5.0), (2.8, -3.3), (2.66, -5.37), (2.7, -5.95), (2.74, -5.6), (2.8, -5.8), (2.77, -5.45),
    (2.63, -3.5), (2.75, -4.0), (2.88, -3.25),
    (3.08, -3.9), (3.19, -3.79), (3.25, -4.3), (3.33, -5.24), (3.44, -4.05), (3.55, -3.65), (3.6, -4.4), (3.66, -5.5),
    (3.7, -3.6), (3.74, -4.0), (3.78, -3.4), (3.82, -4.4), (3.86, -3.75), (3.9, -3.3), (3.94, -4.2), (3.98, -3.55),
    (4.0, -5.37), (4.02, -4.6), (4.06, -3.4), (4.1, -3.9), (4.14, -3.2), (4.18, -4.3), (4.22, -3.6), (4.26, -4.8),
    (4.3, -3.35), (4.32, -5.77), (4.34, -3.85), (4.38, -4.1), (4.42, -3.25), (4.46, -4.5), (4.5, -3.7), (4.54, -3.2),
    (4.58, -5.9), (4.6, -4.0), (4.64, -3.45), (4.68, -4.7), (4.72, -3.15), (4.76, -3.9), (4.8, -5.77), (4.82, -4.3),
    (4.86, -3.3), (4.9, -3.75), (4.93, -4.6), (4.96, -3.2), (4.98, -4.1), (4.99, -3.55), (4.7, -5.37), (4.85, -4.9),
    (4.5, -4.3), (4.4, -3.5), (4.95, -3.0), (4.2, -3.0),
]
n100_core_pos = [
    (2.61, -3.6), (2.63, -3.9), (2.65, -3.35), (2.67, -4.2), (2.69, -3.7), (2.71, -3.95), (2.73, -3.4), (2.75, -4.3),
    (2.77, -3.8), (2.79, -3.55), (2.81, -4.1), (2.83, -3.7), (2.85, -4.4), (2.87, -3.6), (2.89, -3.85), (2.91, -4.2),
    (2.93, -3.5), (2.95, -3.75), (2.97, -4.3), (2.99, -3.45), (3.01, -3.9), (2.72, -4.8), (2.86, -4.7), (2.96, -4.65),
    (3.72, -3.8), (3.76, -3.5), (3.8, -3.9), (3.84, -3.6), (3.88, -4.1), (3.92, -3.45), (3.96, -3.85), (4.0, -3.6),
    (4.04, -3.9), (4.08, -3.3), (4.12, -3.7), (4.16, -4.05), (4.2, -3.5), (4.24, -3.8), (4.28, -3.45), (4.32, -4.2),
    (4.36, -3.6), (4.4, -3.9), (4.44, -3.5), (4.48, -3.85), (4.52, -3.3), (4.56, -4.0), (4.6, -3.6), (4.64, -3.9),
    (4.68, -3.3), (4.72, -3.75), (4.76, -4.1), (4.8, -3.5), (4.84, -3.85), (4.88, -3.2), (4.92, -4.0), (4.95, -3.5),
    (4.97, -3.8), (4.99, -3.2), (4.94, -4.4), (4.86, -4.5),
]
n100_fill_pos = [
    (2.62, -3.45), (2.66, -3.8), (2.7, -3.55), (2.74, -3.9), (2.78, -3.65), (2.82, -3.5), (2.86, -4.05), (2.9, -3.7),
    (2.94, -3.55), (2.98, -4.2), (3.0, -3.8), (2.76, -4.45), (2.92, -3.9),
    (3.75, -3.7), (3.85, -3.95), (3.95, -3.6), (4.05, -3.7), (4.15, -3.55), (4.25, -3.65), (4.35, -3.45), (4.42, -3.75),
    (4.48, -3.6), (4.54, -3.9), (4.6, -3.4), (4.66, -3.7), (4.7, -3.5), (4.75, -3.8), (4.8, -3.65), (4.84, -3.4),
    (4.88, -3.9), (4.91, -3.6), (4.94, -3.35), (4.97, -3.7), (4.99, -3.9), (4.9, -4.3), (4.78, -4.2), (4.62, -4.2),
]
n100_cloud_neg = [
    (2.74, -3.8), (2.76, -4.3), (2.78, -3.5), (2.8, -4.0), (2.82, -4.6), (2.84, -3.6), (2.86, -4.2), (2.88, -3.45),
    (2.9, -3.9), (2.92, -4.45), (2.94, -3.7), (2.96, -4.1), (2.98, -3.55), (3.0, -4.0), (3.02, -3.75), (2.8, -3.6),
    (2.9, -4.2), (2.85, -3.95), (2.95, -4.3), (2.82, -4.1), (2.76, -5.63), (2.83, -5.77), (2.93, -5.6), (2.7, -4.7),
    (2.99, -4.9),
    (3.06, -3.9), (3.1, -4.4), (3.15, -3.6), (3.2, -4.1), (3.26, -4.7), (3.3, -3.8), (3.35, -4.3), (3.4, -3.55),
    (3.45, -4.0), (3.5, -4.5), (3.55, -3.7), (3.6, -4.2), (3.65, -3.5), (3.7, -3.95), (3.75, -4.4), (3.25, -5.3),
    (3.5, -5.1), (3.12, -5.4),
    (3.8, -3.7), (3.84, -4.2), (3.88, -3.45), (3.92, -4.5), (3.96, -3.9), (4.0, -3.3), (4.04, -4.1), (4.08, -5.0),
    (4.12, -3.6), (4.16, -4.3), (4.2, -3.25), (4.24, -3.85), (4.28, -4.7), (4.32, -3.45), (4.36, -5.4), (4.4, -4.0),
    (4.44, -3.3), (4.48, -4.5), (4.52, -3.75), (4.56, -5.7), (4.6, -3.2), (4.64, -4.2), (4.68, -3.55), (4.72, -5.0),
    (4.76, -3.9), (4.8, -4.6), (4.84, -3.3), (4.88, -5.9), (4.92, -4.1), (4.95, -3.6), (4.97, -5.3), (4.99, -3.9),
    (4.9, -3.2), (4.7, -4.4), (4.5, -5.2), (4.82, -5.4), (4.96, -4.6), (4.6, -4.8),
]
n100_core_neg = [
    (2.75, -4.0), (2.77, -3.7), (2.79, -4.4), (2.81, -3.85), (2.83, -4.2), (2.85, -3.5), (2.87, -4.0), (2.89, -4.3),
    (2.91, -3.6), (2.93, -4.05), (2.95, -3.85), (2.97, -4.4), (2.99, -3.7), (3.01, -4.2), (2.78, -4.6), (2.88, -3.75),
    (2.92, -4.6), (3.0, -3.45),
    (3.82, -4.0), (3.86, -3.7), (3.9, -4.1), (3.94, -3.6), (3.98, -4.3), (4.02, -3.8), (4.06, -3.5), (4.1, -4.0),
    (4.14, -3.75), (4.18, -4.5), (4.22, -3.6), (4.26, -4.1), (4.3, -3.85), (4.34, -3.3), (4.38, -4.3), (4.42, -3.7),
    (4.46, -4.0), (4.5, -3.5), (4.54, -4.4), (4.58, -3.8), (4.62, -4.1), (4.66, -3.4), (4.7, -3.9), (4.74, -4.6),
    (4.78, -3.6), (4.82, -4.0), (4.86, -3.75), (4.9, -4.5), (4.93, -3.4), (4.96, -3.95), (4.98, -4.4), (4.99, -3.3),
    (4.92, -5.0), (4.8, -5.1), (4.65, -4.7),
]
n100_fill_neg = [
    (2.76, -4.0), (2.8, -4.25), (2.84, -3.8), (2.88, -4.15), (2.92, -3.9), (2.96, -4.2), (3.0, -3.85), (2.82, -3.55),
    (2.94, -4.5), (2.86, -4.45),
    (3.85, -3.9), (3.95, -4.1), (4.05, -3.8), (4.15, -4.0), (4.25, -3.7), (4.35, -3.95), (4.44, -3.8), (4.5, -4.1),
    (4.56, -3.6), (4.62, -3.9), (4.68, -4.2), (4.72, -3.6), (4.76, -4.0), (4.8, -3.8), (4.84, -4.3), (4.88, -3.6),
    (4.91, -4.0), (4.94, -3.7), (4.97, -4.3), (4.99, -3.6), (4.9, -4.7), (4.75, -4.8),
]

numeric_neg_floor = -3.7   # numeric points on the negative branch stop near here
numeric_pos_floor = -3.8   # first numeric point after the sign change

panels = [
    (25, n25_neg_logt, n25_neg_logy, n25_pos_logt, n25_pos_logy, n25_peak_end, n25_marks,
     n25_cloud_pos + n25_core_pos + n25_fill_pos, n25_cloud_neg + n25_core_neg + n25_fill_neg),
    (50, n50_neg_logt, n50_neg_logy, n50_pos_logt, n50_pos_logy, n50_peak_end, n50_marks,
     n50_cloud_pos + n50_core_pos + n50_fill_pos, n50_cloud_neg + n50_core_neg + n50_fill_neg),
    (75, n75_neg_logt, n75_neg_logy, n75_pos_logt, n75_pos_logy, n75_peak_end, n75_marks,
     n75_cloud_pos + n75_core_pos + n75_fill_pos, n75_cloud_neg + n75_core_neg + n75_fill_neg),
    (100, n100_neg_logt, n100_neg_logy, n100_pos_logt, n100_pos_logy, n100_peak_end, n100_marks,
     n100_cloud_pos + n100_core_pos + n100_fill_pos, n100_cloud_neg + n100_core_neg + n100_fill_neg),
]

# ---- style ----
sns.set_style("ticks")
plt.rcParams.update({
    "font.family": ["Liberation Sans", "DejaVu Sans"],
    "mathtext.fontset": "custom",
    "mathtext.rm": "Liberation Sans",
    "mathtext.it": "Liberation Sans:italic",
    "mathtext.bf": "Liberation Sans:bold",
    "xtick.labelsize": 10,
    "ytick.labelsize": 10,
    "axes.edgecolor": "#262626",
    "axes.linewidth": 0.7,
    "xtick.color": "#262626",
    "ytick.color": "#262626",
})

RED = "#ff0000"
BLUE = "#0000ff"
MS = 13
MLW = 0.8
W, H = 676, 451
AXW = 274
COL_X = [78.5, 377]
ROWS = [((19, 94), (120, 195)), ((219, 295), (319, 395))]


def rect(x0, top, bottom):
    return [x0 / W, (H - bottom) / H, AXW / W, (bottom - top) / H]


def style_axis(ax, neg, left_col, bottom):
    ax.set_xscale("log")
    ax.set_yscale("log")
    ax.set_xlim(1e-1, 1e5)
    if neg:
        ax.set_ylim(1e0, 1e-6)
    else:
        ax.set_ylim(1e-6, 1e0)
    ax.xaxis.set_major_locator(FixedLocator(10.0 ** np.arange(-1, 6)))
    ax.xaxis.set_minor_locator(LogLocator(base=10, subs=np.arange(2, 10), numticks=100))
    ax.xaxis.set_minor_formatter(NullFormatter())
    if bottom:
        ax.xaxis.set_major_formatter(FixedFormatter([r"$10^{%d}$" % k for k in range(-1, 6)]))
    else:
        ax.xaxis.set_major_formatter(NullFormatter())
    ax.yaxis.set_major_locator(FixedLocator(10.0 ** np.arange(-6, 1)))
    ax.yaxis.set_minor_formatter(NullFormatter())
    if left_col:
        sign = "-" if neg else ""
        labels = [(sign + r"$10^{%d}$" % k) if k % 2 == 0 else "" for k in range(-6, 1)]
        ax.yaxis.set_major_formatter(FixedFormatter(labels))
        ax.yaxis.set_minor_locator(LogLocator(base=10, subs=np.arange(2, 10), numticks=100))
    else:
        ax.yaxis.set_major_formatter(NullFormatter())
        ax.yaxis.set_minor_locator(NullLocator())
    ax.tick_params(which="both", direction="in", top=True, right=True)
    ax.tick_params(which="major", length=3, width=0.5)
    ax.tick_params(which="minor", length=1.6, width=0.4)
    ax.tick_params(axis="x", pad=6)
    ax.tick_params(axis="y", pad=2)
    ax.set_xlabel("")
    ax.set_ylabel("")


def zigzag(fig, ax_up, ax_lo):
    b_up = ax_up.get_position()
    b_lo = ax_lo.get_position()
    ys = np.linspace(b_up.y0 - 2.5 / H, b_lo.y1 + 2.5 / H, 10)
    xs = b_up.x0 + np.array([-1.0, 3.0] * 5) / W
    fig.add_artist(Line2D(xs, ys, transform=fig.transFigure, color="#262626", lw=0.6))


def red_circles(ax, lt, ly):
    sns.scatterplot(x=10 ** np.asarray(lt), y=10 ** np.asarray(ly), ax=ax, marker="o", s=MS,
                    facecolor="none", edgecolor=RED, linewidth=MLW, zorder=2, legend=False)


fig = plt.figure(figsize=(W / 100, H / 100), dpi=100)

for i, (n, neg_t, neg_y, pos_t, pos_y, peak_end, marks, cloud_pos, cloud_neg) in enumerate(panels):
    row, col = divmod(i, 2)
    (up_top, up_bot), (lo_top, lo_bot) = ROWS[row]
    ax_up = fig.add_axes(rect(COL_X[col], up_top, up_bot))
    ax_lo = fig.add_axes(rect(COL_X[col], lo_top, lo_bot))
    style_axis(ax_up, False, col == 0, False)
    style_axis(ax_lo, True, col == 0, row == 1)

    # negative branch (plotted as |Im g2| on an inverted log axis)
    lt = np.array(early_logt + neg_t)
    ly = np.array(early_logy + neg_y)
    keep = ly >= numeric_neg_floor
    red_circles(ax_lo, lt[keep], ly[keep])
    cn = np.array(cloud_neg)
    red_circles(ax_lo, cn[:, 0], cn[:, 1])
    sns.lineplot(x=10 ** lt, y=10 ** ly, ax=ax_lo, color=BLUE, lw=1.1, estimator=None, sort=False, zorder=3)

    # positive branch
    pt = np.array(pos_t)
    py = np.array(pos_y)
    keep = (pt <= peak_end) & (py >= numeric_pos_floor)
    red_circles(ax_up, pt[keep], py[keep])
    cp = np.array(cloud_pos)
    red_circles(ax_up, cp[:, 0], cp[:, 1])
    sns.lineplot(x=10 ** pt, y=10 ** py, ax=ax_up, color=BLUE, lw=1.1, estimator=None, sort=False, zorder=3)

    for m in marks:
        for ax in (ax_up, ax_lo):
            ax.axvline(m, color="#404040", ls=(0, (3, 2)), lw=0.6, zorder=1)

    # re-apply formatting that seaborn may have touched
    style_axis(ax_up, False, col == 0, False)
    style_axis(ax_lo, True, col == 0, row == 1)

    handles = [
        Line2D([], [], ls="none", marker="o", mfc="none", mec=RED, ms=3.4, mew=0.6),
        Line2D([], [], color=BLUE, lw=1.1),
    ]
    leg = ax_up.legend(handles, ["Numeric", "Analytic"], loc="upper left", bbox_to_anchor=(0.02, 0.935),
                       borderaxespad=0, prop={"family": "cmr10", "size": 15}, handlelength=1.0,
                       handletextpad=0.1, borderpad=0.28, labelspacing=0.22, frameon=True, fancybox=False,
                       edgecolor="#262626", framealpha=1)
    leg.get_frame().set_linewidth(0.6)

    ty = 0.68 if row == 0 else 0.66
    ax_lo.text(0.088, ty, rf"$N\;=\;{n}$", transform=ax_lo.transAxes, fontsize=15, math_fontfamily="cm",
               ha="left", va="center")

    zigzag(fig, ax_up, ax_lo)

fig.text(0.036, 0.541, r"$\mathrm{Im}[g^{(2)}(t)]$", rotation=90, fontsize=15, math_fontfamily="cm",
         ha="center", va="center")
fig.text(0.54, 0.035, r"$t$", fontsize=16, math_fontfamily="cm", ha="center", va="center")

fig.savefig("out.png", dpi=100)
plt.close(fig)
